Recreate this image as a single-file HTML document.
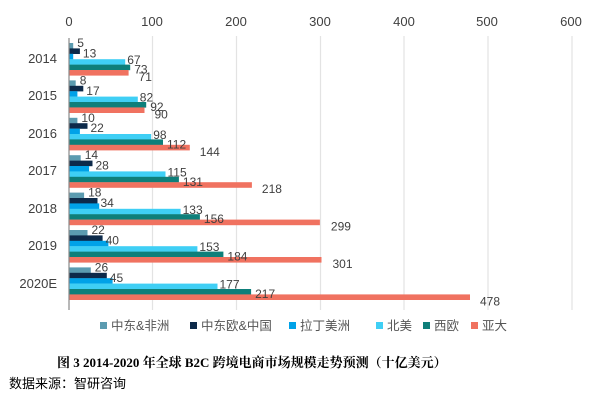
<!DOCTYPE html>
<html><head><meta charset="utf-8"><style>
body{margin:0;background:#fff;width:600px;height:408px;overflow:hidden}
</style></head><body>
<svg width="600" height="408" xmlns="http://www.w3.org/2000/svg" font-family="Liberation Sans, Noto Sans CJK SC, sans-serif">
<g stroke="#e3e3e3" stroke-width="1.2">
<line x1="152.5" y1="36" x2="152.5" y2="310"/>
<line x1="236.5" y1="36" x2="236.5" y2="310"/>
<line x1="320.5" y1="36" x2="320.5" y2="310"/>
<line x1="404" y1="36" x2="404" y2="310"/>
<line x1="488" y1="36" x2="488" y2="310"/>
<line x1="572" y1="36" x2="572" y2="310"/>
</g>
<g font-size="13" fill="#404040" text-anchor="middle">
<text x="69" y="26">0</text><text x="152" y="26">100</text><text x="236" y="26">200</text><text x="320" y="26">300</text><text x="404" y="26">400</text><text x="487" y="26">500</text><text x="571" y="26">600</text>
</g>
<g font-size="13" fill="#404040" text-anchor="end">
<text x="57" y="63">2014</text><text x="57" y="100">2015</text><text x="57" y="138">2016</text><text x="57" y="175">2017</text><text x="57" y="213">2018</text><text x="57" y="250">2019</text><text x="57" y="288">2020E</text>
</g>
<g>
<rect x="69" y="43" width="4.2" height="5.6" fill="#5b9bb0"/><rect x="69" y="48.4" width="10.9" height="5.6" fill="#0d2a4a"/><rect x="69" y="53.8" width="4.2" height="5.6" fill="#00a2e8"/><rect x="69" y="59.2" width="56.2" height="5.6" fill="#3fcff5"/><rect x="69" y="64.6" width="61.2" height="5.6" fill="#0e7f7a"/><rect x="69" y="70" width="59.6" height="5.6" fill="#f07260"/>
<rect x="69" y="80.4" width="6.7" height="5.6" fill="#5b9bb0"/><rect x="69" y="85.8" width="14.3" height="5.6" fill="#0d2a4a"/><rect x="69" y="91.2" width="8.4" height="5.6" fill="#00a2e8"/><rect x="69" y="96.6" width="68.8" height="5.6" fill="#3fcff5"/><rect x="69" y="102" width="77.2" height="5.6" fill="#0e7f7a"/><rect x="69" y="107.4" width="75.5" height="5.6" fill="#f07260"/>
<rect x="69" y="117.8" width="8.4" height="5.6" fill="#5b9bb0"/><rect x="69" y="123.2" width="18.5" height="5.6" fill="#0d2a4a"/><rect x="69" y="128.6" width="10.9" height="5.6" fill="#00a2e8"/><rect x="69" y="134" width="82.2" height="5.6" fill="#3fcff5"/><rect x="69" y="139.4" width="94" height="5.6" fill="#0e7f7a"/><rect x="69" y="144.8" width="120.8" height="5.6" fill="#f07260"/>
<rect x="69" y="155.2" width="11.7" height="5.6" fill="#5b9bb0"/><rect x="69" y="160.6" width="23.5" height="5.6" fill="#0d2a4a"/><rect x="69" y="166" width="20.1" height="5.6" fill="#00a2e8"/><rect x="69" y="171.4" width="96.5" height="5.6" fill="#3fcff5"/><rect x="69" y="176.8" width="109.9" height="5.6" fill="#0e7f7a"/><rect x="69" y="182.2" width="182.9" height="5.6" fill="#f07260"/>
<rect x="69" y="192.6" width="15.1" height="5.6" fill="#5b9bb0"/><rect x="69" y="198" width="28.5" height="5.6" fill="#0d2a4a"/><rect x="69" y="203.4" width="30.2" height="5.6" fill="#00a2e8"/><rect x="69" y="208.8" width="111.6" height="5.6" fill="#3fcff5"/><rect x="69" y="214.2" width="130.9" height="5.6" fill="#0e7f7a"/><rect x="69" y="219.6" width="250.9" height="5.6" fill="#f07260"/>
<rect x="69" y="230" width="18.5" height="5.6" fill="#5b9bb0"/><rect x="69" y="235.4" width="33.6" height="5.6" fill="#0d2a4a"/><rect x="69" y="240.8" width="39.4" height="5.6" fill="#00a2e8"/><rect x="69" y="246.2" width="128.4" height="5.6" fill="#3fcff5"/><rect x="69" y="251.6" width="154.4" height="5.6" fill="#0e7f7a"/><rect x="69" y="257" width="252.5" height="5.6" fill="#f07260"/>
<rect x="69" y="267.4" width="21.8" height="5.6" fill="#5b9bb0"/><rect x="69" y="272.8" width="37.8" height="5.6" fill="#0d2a4a"/><rect x="69" y="278.2" width="43.6" height="5.6" fill="#00a2e8"/><rect x="69" y="283.6" width="148.5" height="5.6" fill="#3fcff5"/><rect x="69" y="289" width="182.1" height="5.6" fill="#0e7f7a"/><rect x="69" y="294.4" width="401" height="5.6" fill="#f07260"/>
</g>
<g font-size="12" fill="#404040">
<text x="77.2" y="47">5</text><text x="82.9" y="57.4">13</text><text x="127.2" y="64.2">67</text><text x="134.2" y="73.6">73</text><text x="138.6" y="81">71</text>
<text x="79.7" y="84.4">8</text><text x="86.3" y="94.8">17</text><text x="139.8" y="101.6">82</text><text x="150.2" y="111">92</text><text x="154.5" y="118.4">90</text>
<text x="81.4" y="121.8">10</text><text x="90.5" y="132.2">22</text><text x="153.2" y="139">98</text><text x="167" y="148.4">112</text><text x="199.8" y="155.8">144</text>
<text x="84.7" y="159.2">14</text><text x="95.5" y="169.6">28</text><text x="167.5" y="176.4">115</text><text x="182.9" y="185.8">131</text><text x="261.9" y="193.2">218</text>
<text x="88.1" y="196.6">18</text><text x="100.5" y="207">34</text><text x="182.6" y="213.8">133</text><text x="203.9" y="223.2">156</text><text x="330.9" y="230.6">299</text>
<text x="91.5" y="234">22</text><text x="105.6" y="244.4">40</text><text x="199.4" y="251.2">153</text><text x="227.4" y="260.6">184</text><text x="332.5" y="268">301</text>
<text x="94.8" y="271.4">26</text><text x="109.8" y="281.8">45</text><text x="219.5" y="288.6">177</text><text x="255.1" y="298">217</text><text x="480" y="305.4">478</text>
</g>
<line x1="69" y1="38" x2="69" y2="310" stroke="#888" stroke-width="1.2"/>
<g font-size="12.5" fill="#555">
<rect x="100" y="322" width="7" height="7" fill="#5b9bb0"/><text x="111" y="330">中东&amp;非洲</text>
<rect x="190" y="322" width="7" height="7" fill="#0d2a4a"/><text x="201" y="330">中东欧&amp;中国</text>
<rect x="289" y="322" width="7" height="7" fill="#00a2e8"/><text x="300" y="330">拉丁美洲</text>
<rect x="376" y="322" width="7" height="7" fill="#3fcff5"/><text x="387" y="330">北美</text>
<rect x="423" y="322" width="7" height="7" fill="#0e7f7a"/><text x="434" y="330">西欧</text>
<rect x="471" y="322" width="7" height="7" fill="#f07260"/><text x="482" y="330">亚大</text>
</g>
<text x="57" y="367" font-size="13" font-weight="bold" fill="#000" font-family="Liberation Serif, Noto Serif CJK SC, serif">图 3 2014-2020 年全球 B2C 跨境电商市场规模走势预测（十亿美元）</text>
<text x="9" y="388" font-size="13" fill="#000">数据来源：智研咨询</text>
</svg>
</body></html>
